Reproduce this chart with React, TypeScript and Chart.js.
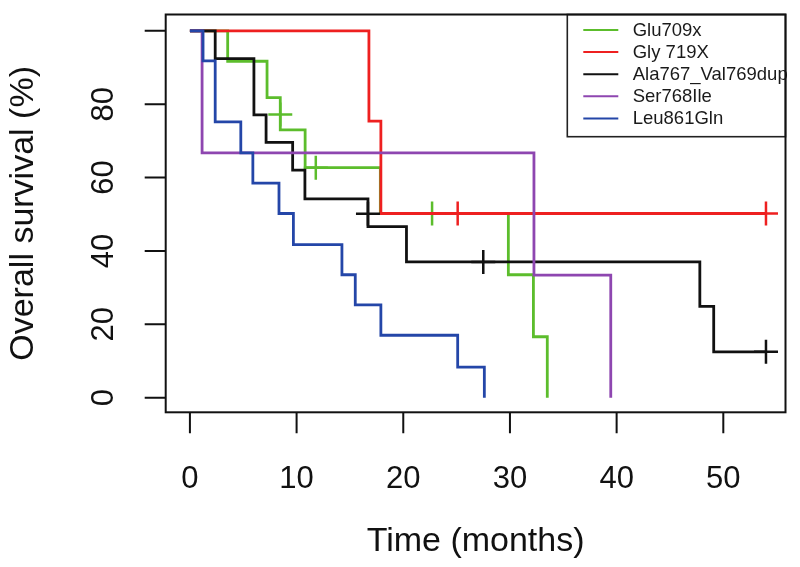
import React, { useEffect, useRef } from "react";
import { Chart, registerables } from "chart.js";

Chart.register(...registerables);

// ---------- data ----------
const seriesNames = ["Glu709x", "Gly 719X", "Ala767_Val769dup", "Ser768Ile", "Leu861Gln"];
const seriesColors = ["#5CBD2C", "#EE2020", "#111111", "#8E46B0", "#2446A8"];

const gluTimes = [0, 3.54, 7.23, 8.47, 10.8, 17.85, 29.85, 32.2, 33.5];
const gluSurv = [100, 91.7, 81.8, 73, 62.7, 50.2, 33.5, 16.6, 0];
const gluCensorTimes = [8.47, 11.8, 22.7];
const gluCensorSurv = [77.2, 62.7, 50.2];

const glyTimes = [0, 16.78, 17.9, 54.0];
const glySurv = [100, 75.4, 50.2, 50.2];
const glyCensorTimes = [25.1, 54.0];
const glyCensorSurv = [50.2, 50.2];

const alaTimes = [0, 2.37, 6.0, 7.14, 9.63, 10.78, 16.69, 20.3, 47.8, 49.1, 54.0];
const alaSurv = [100, 92.4, 77.1, 69.6, 62, 54.2, 46.6, 37, 24.9, 12.5, 12.5];
const alaCensorTimes = [16.69, 27.5, 54.0];
const alaCensorSurv = [50.1, 37, 12.5];

const serTimes = [0, 1.14, 32.25, 39.45];
const serSurv = [100, 66.7, 33.4, 0];
const serCensorTimes: number[] = [];
const serCensorSurv: number[] = [];

const leuTimes = [0, 1.23, 2.37, 4.77, 5.9, 8.35, 9.7, 14.25, 15.5, 17.9, 25.1, 27.6];
const leuSurv = [100, 91.8, 75.2, 66.7, 58.5, 50.2, 41.7, 33.5, 25.3, 17, 8.3, 0];
const leuCensorTimes: number[] = [];
const leuCensorSurv: number[] = [];

const xTicks = [0, 10, 20, 30, 40, 50];
const xTickLabels = ["0", "10", "20", "30", "40", "50"];
const yTicks = [0, 20, 40, 60, 80, 100];
const yTickLabels = ["0", "20", "40", "60", "80", ""];
const xTitle = "Time (months)";
const yTitle = "Overall survival (%)";

const FONT = '"Liberation Sans", Arial, Helvetica, sans-serif';

const curves = [
  { t: gluTimes, s: gluSurv, ct: gluCensorTimes, cs: gluCensorSurv },
  { t: glyTimes, s: glySurv, ct: glyCensorTimes, cs: glyCensorSurv },
  { t: alaTimes, s: alaSurv, ct: alaCensorTimes, cs: alaCensorSurv },
  { t: serTimes, s: serSurv, ct: serCensorTimes, cs: serCensorSurv },
  { t: leuTimes, s: leuSurv, ct: leuCensorTimes, cs: leuCensorSurv },
];

const decorPlugin = {
  id: "decor",
  afterDraw(chart: any) {
    const ctx = chart.ctx as CanvasRenderingContext2D;
    const xs = chart.scales.x;
    const ys = chart.scales.y;
    const { left, right, top, bottom } = chart.chartArea;
    ctx.save();

    // legend
    const lgLeft = 567.3, lgTop = top, lgRight = right, lgBottom = 136.7;
    ctx.fillStyle = "#ffffff";
    ctx.fillRect(lgLeft, lgTop, lgRight - lgLeft, lgBottom - lgTop);
    ctx.strokeStyle = "#222";
    ctx.lineWidth = 1.6;
    ctx.strokeRect(lgLeft, lgTop, lgRight - lgLeft, lgBottom - lgTop);
    ctx.font = `18.5px ${FONT}`;
    ctx.textAlign = "left";
    ctx.textBaseline = "middle";
    seriesNames.forEach((name, i) => {
      const y = 30 + i * 22.1;
      ctx.strokeStyle = seriesColors[i];
      ctx.lineWidth = 2;
      ctx.beginPath();
      ctx.moveTo(583.3, y);
      ctx.lineTo(618.3, y);
      ctx.stroke();
      ctx.fillStyle = "#1a1a1a";
      ctx.fillText(name, 632.7, y + 1);
    });

    // frame
    ctx.strokeStyle = "#111";
    ctx.lineWidth = 2;
    ctx.strokeRect(left, top, right - left, bottom - top);

    // ticks
    ctx.beginPath();
    xTicks.forEach((v) => {
      const px = xs.getPixelForValue(v);
      ctx.moveTo(px, bottom);
      ctx.lineTo(px, bottom + 21);
    });
    yTicks.forEach((v) => {
      const py = ys.getPixelForValue(v);
      ctx.moveTo(left, py);
      ctx.lineTo(left - 21, py);
    });
    ctx.stroke();

    // tick labels
    ctx.fillStyle = "#111";
    ctx.font = `31px ${FONT}`;
    ctx.textAlign = "center";
    ctx.textBaseline = "middle";
    xTicks.forEach((v, i) => {
      ctx.fillText(xTickLabels[i], xs.getPixelForValue(v), 479);
    });
    yTicks.forEach((v, i) => {
      ctx.save();
      ctx.translate(104, ys.getPixelForValue(v));
      ctx.rotate(-Math.PI / 2);
      ctx.fillText(yTickLabels[i], 0, 0);
      ctx.restore();
    });

    // axis titles
    ctx.font = `34px ${FONT}`;
    ctx.fillText(xTitle, (left + right) / 2, 542);
    ctx.save();
    ctx.translate(24, (top + bottom) / 2);
    ctx.rotate(-Math.PI / 2);
    ctx.fillText(yTitle, 0, 0);
    ctx.restore();

    ctx.restore();
  },
};

export default function App() {
  const canvasRef = useRef<HTMLCanvasElement | null>(null);

  useEffect(() => {
    if (!canvasRef.current) return;
    const datasets: any[] = [];
    curves.forEach((c, i) => {
      datasets.push({
        type: "line",
        label: seriesNames[i],
        data: c.t.map((t, k) => ({ x: t, y: c.s[k] })),
        borderColor: seriesColors[i],
        borderWidth: 2.8,
        stepped: "before",
        pointRadius: 0,
        fill: false,
        order: 10 - 2 * i,
      });
      if (c.ct.length) {
        datasets.push({
          type: "line",
          label: seriesNames[i] + " censored",
          data: c.ct.map((t, k) => ({ x: t, y: c.cs[k] })),
          showLine: false,
          pointStyle: "cross",
          pointRadius: 12,
          pointBorderWidth: 2.5,
          pointBorderColor: seriesColors[i],
          pointBackgroundColor: seriesColors[i],
          borderColor: seriesColors[i],
          order: 9 - 2 * i,
        });
      }
    });

    const chart = new Chart(canvasRef.current, {
      type: "line",
      data: { datasets },
      options: {
        animation: false,
        responsive: false,
        devicePixelRatio: 1,
        layout: { padding: { left: 165.7, top: 5, right: 7, bottom: 154.7 } },
        plugins: { legend: { display: false }, tooltip: { enabled: false } },
        scales: {
          x: { type: "linear", min: -2.27, max: 55.83, display: false },
          y: { type: "linear", min: -4, max: 104.45, display: false },
        },
      },
      plugins: [decorPlugin],
    } as any);
    return () => chart.destroy();
  }, []);

  return (
    <div style={{ position: "fixed", left: 0, top: 0, width: 800, height: 567, background: "#fff" }}>
      <canvas ref={canvasRef} width={800} height={567} style={{ display: "block" }} />
    </div>
  );
}
